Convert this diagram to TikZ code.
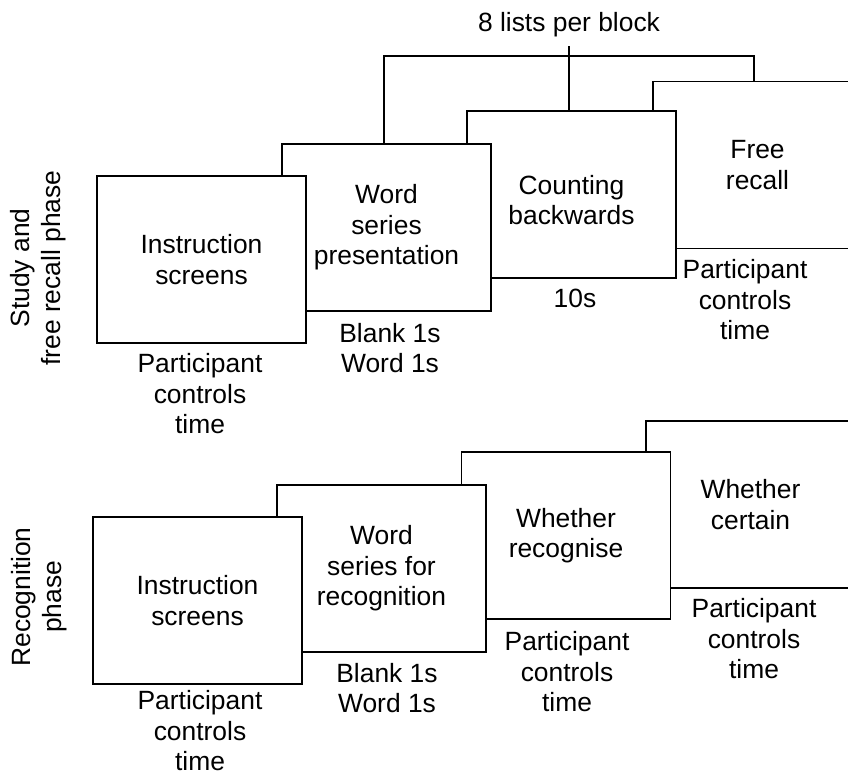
\documentclass[tikz,border=0pt]{standalone}
\usepackage{fontspec}
\setmainfont{Liberation Sans}
\newcommand{\dgfont}{\fontsize{26.4}{30.5}\selectfont}
\begin{document}
\begin{tikzpicture}[x=1pt,y=-1pt,
  box/.style={draw=black, line width=1.5pt, fill=white, minimum width=209pt,
    minimum height=167pt, inner sep=0pt, align=center, font=\dgfont},
  lbl/.style={align=center, font=\dgfont, inner sep=0pt},
  wire/.style={draw=black, line width=1.5pt}]
\useasboundingbox (0,0) rectangle (848,777);
\clip (0,0) rectangle (848,777);
% ---- study and free recall phase ----
\node[box] (F1) at (757.5,165) {Free\\recall};
\node[box] (C1) at (571.5,194.5) {};
\node[lbl] (C1t) at (571.5,200) {Counting\\backwards};
\node[box] (W1) at (386.5,227.5) {Word\\series\\presentation};
\node[box] (I1) at (201.5,259.5) {Instruction\\screens};
% bracket
\coordinate (bl) at (384,56);
\coordinate (br) at (754,56);
\coordinate (bt) at (569,46);
\draw[wire] (bl |- W1.north) -- (bl) -- (br) -- (br |- F1.north);
\draw[wire] (bt) -- (bt |- C1.north);
\node[lbl] (lists) at (569,25) {8 lists per block};
% labels below
\node[lbl] (p1) at (200,394) {Participant\\controls\\time};
\node[lbl] (b1) at (390,348) {Blank 1s\\Word 1s};
\node[lbl] (t1) at (575,298) {10s};
\node[lbl] (p2) at (745,300) {Participant\\controls\\time};
\node[lbl, rotate=90] (s1) at (38,268) {Study and\\free recall phase};
% ---- recognition phase ----
\node[box] (C2) at (750.5,504.5) {Whether\\certain};
\node[box] (R2) at (566,535.5) {Whether\\recognise};
\node[box] (W2) at (381.5,568.5) {Word\\series for\\recognition};
\node[box] (I2) at (197.5,600.5) {Instruction\\screens};
\node[lbl] (p3) at (200,731) {Participant\\controls\\time};
\node[lbl] (b2) at (387,688) {Blank 1s\\Word 1s};
\node[lbl] (p4) at (567,672) {Participant\\controls\\time};
\node[lbl] (p5) at (754,639) {Participant\\controls\\time};
\node[lbl, rotate=90] (s2) at (39,597) {Recognition\\phase};
\end{tikzpicture}
\end{document}
